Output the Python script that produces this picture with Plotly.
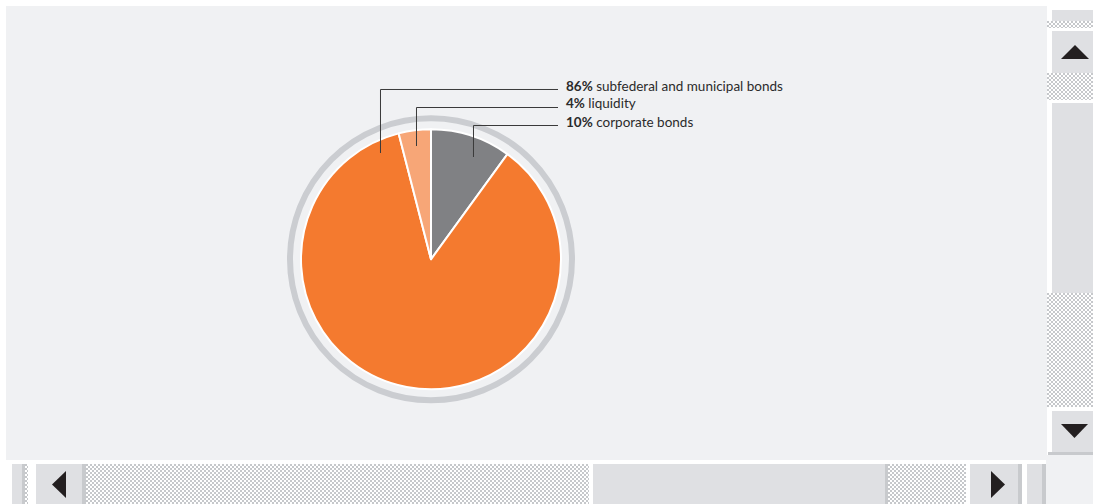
import base64
import plotly.graph_objects as go

# ---- data ----
categories = ["corporate bonds", "subfederal and municipal bonds", "liquidity"]
shares = [10, 86, 4]
label_order = ["subfederal and municipal bonds", "liquidity", "corporate bonds"]

W, H = 1093, 504
BG = "#f0f1f3"
SB = "#dfe0e3"
SB_DARK = "#c8cacd"
ARROW = "#231f20"
slice_colors = {"corporate bonds": "#808184",
                "subfederal and municipal bonds": "#f47a2f",
                "liquidity": "#f7a677"}

def px(x):
    return x / W

def py(y):
    return 1 - y / H

shapes = []
images = []

def rect(x0, y0, x1, y1, color):
    shapes.append(dict(type="rect", xref="paper", yref="paper",
                       x0=px(x0), x1=px(x1), y0=py(y1), y1=py(y0),
                       fillcolor=color, line=dict(width=0), layer="below"))

def poly(points, color):
    d = "M " + " L ".join(f"{px(a):.6f},{py(b):.6f}" for a, b in points) + " Z"
    shapes.append(dict(type="path", xref="paper", yref="paper", path=d,
                       fillcolor=color, line=dict(width=0), layer="above"))

def checker(x0, y0, x1, y1):
    w, h = x1 - x0, y1 - y0
    svg = (f"<svg xmlns='http://www.w3.org/2000/svg' width='{w}' height='{h}' "
           f"shape-rendering='crispEdges'>"
           "<defs><pattern id='p' width='4' height='4' patternUnits='userSpaceOnUse'>"
           "<rect width='4' height='4' fill='#ffffff'/>"
           "<rect width='2' height='2' fill='#c6c8cb'/>"
           "<rect x='2' y='2' width='2' height='2' fill='#c6c8cb'/>"
           "</pattern></defs>"
           f"<rect width='{w}' height='{h}' fill='url(#p)'/></svg>")
    src = "data:image/svg+xml;base64," + base64.b64encode(svg.encode()).decode()
    images.append(dict(source=src, xref="paper", yref="paper",
                       x=px(x0), y=py(y0), sizex=w / W, sizey=h / H,
                       xanchor="left", yanchor="top", sizing="stretch",
                       layer="below"))

# main panel
rect(6, 6, 1047, 460, BG)
rect(1046, 455, W, H, BG)

# vertical scrollbar
rect(1052, 10, W, 21, SB)
checker(1047, 21, W, 28)
rect(1052, 31, W, 73, SB)
checker(1047, 73, W, 100)
rect(1052, 103, W, 293, SB)
checker(1047, 293, W, 407)
rect(1052, 411, W, 452, SB)
rect(1048, 452, W, 455, SB_DARK)
poly([(1061, 59), (1089, 59), (1075, 45)], ARROW)
poly([(1061, 424), (1088, 424), (1074.5, 438)], ARROW)

# horizontal scrollbar
rect(12, 464, 22, H, SB)
rect(22, 464, 25, H, SB_DARK)
checker(25, 464, 28, H)
rect(36, 464, 82, H, SB)
rect(82, 464, 86, H, SB_DARK)
checker(86, 464, 589, H)
rect(593, 464, 885, H, SB)
rect(885, 464, 888, H, SB_DARK)
checker(888, 464, 966, H)
rect(970, 464, 1018, H, SB)
rect(1018, 464, 1022, H, SB_DARK)
rect(1027, 464, 1042, H, SB)
rect(1042, 464, 1046, H, SB_DARK)
poly([(52, 484.5), (66, 471), (66, 498)], ARROW)
poly([(1005, 484.5), (991, 471), (991, 498)], ARROW)

# pie geometry
cx, cy, r = 431, 259.3, 130

# outer ring
ring_r = 141
shapes.append(dict(type="circle", xref="paper", yref="paper",
                   x0=px(cx - ring_r), x1=px(cx + ring_r),
                   y0=py(cy + ring_r), y1=py(cy - ring_r),
                   line=dict(color="#cbcdd1", width=6), fillcolor="rgba(0,0,0,0)",
                   layer="below"))

# leader lines
leaders = [(380.5, 153, 89.5), (416.5, 146, 107.5), (473.5, 157, 125.5)]
for lx, ly0, ly1 in leaders:
    shapes.append(dict(type="path", xref="paper", yref="paper",
                       path=f"M {px(lx):.6f},{py(ly0):.6f} L {px(lx):.6f},{py(ly1):.6f} "
                            f"L {px(558):.6f},{py(ly1):.6f}",
                       line=dict(color="#3a3a3a", width=1), layer="above"))

annotations = []
for i, name in enumerate(label_order):
    val = shares[categories.index(name)]
    annotations.append(dict(xref="paper", yref="paper", x=px(564), y=py(85.5 + 18 * i),
                            xanchor="left", yanchor="middle", showarrow=False,
                            text=f"<b>{val}%</b> {name}",
                            font=dict(family="Lato", size=13.5, color="#2b2b2b")))

fig = go.Figure(go.Pie(
    labels=categories, values=shares, sort=False, direction="clockwise", rotation=0,
    marker=dict(colors=[slice_colors[c] for c in categories],
                line=dict(color="#ffffff", width=2)),
    textinfo="none", hoverinfo="label+percent", showlegend=False,
    domain=dict(x=[px(cx - r), px(cx + r)], y=[py(cy + r), py(cy - r)]),
))

fig.update_layout(width=W, height=H, margin=dict(l=0, r=0, t=0, b=0),
                  paper_bgcolor="#ffffff", plot_bgcolor="#ffffff",
                  shapes=shapes, images=images, annotations=annotations)
fig.write_html("out.html")
